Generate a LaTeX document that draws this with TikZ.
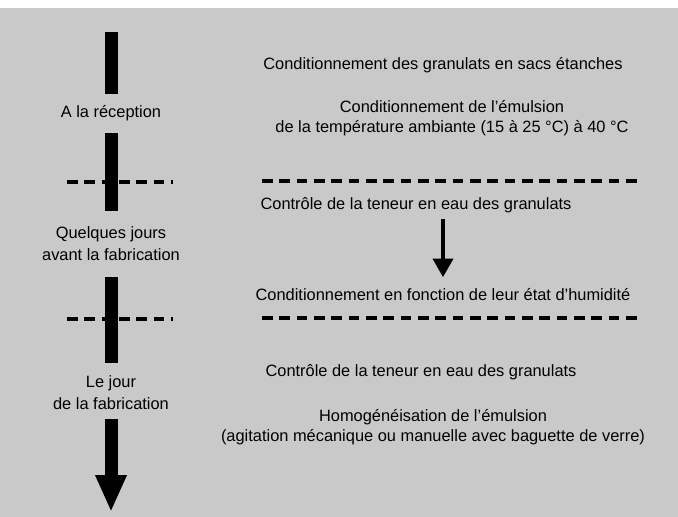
\documentclass[tikz,border=0pt]{standalone}
\usepackage{fontspec}
\setmainfont{Liberation Sans}
\usepackage{tikz}
\usetikzlibrary{arrows.meta}

\begin{document}
\begin{tikzpicture}[x=0.75pt,y=0.75pt,yscale=-1,xscale=1,
  etape/.style={inner sep=0.75pt, align=center, font=\fontsize{12.3}{15}\selectfont},
  periode/.style={etape, font=\fontsize{12.3}{16.5}\selectfont, outer sep=6pt},
  barre/.style={line width=9.75pt},
  tirets/.style={line width=3pt, dash pattern=on 8pt off 5pt},
  fleche/.style={line width=3pt, -{Triangle[length=14pt,width=15pt]}}]
\useasboundingbox (0,0) rectangle (678,517);
\fill [gray!42] (0,8) rectangle (678,517);

% Text Node
\node [periode] (recep) at (111,113) {A la réception};
% Text Node
\node [periode] (avant) at (111,244) {Quelques jours\\avant la fabrication};
% Text Node
\node [periode] (jour) at (111,393) {Le jour\\de la fabrication};
\coordinate (haut) at (111,32);
\coordinate (bas) at (111,512);

% Text Node
\node [etape] (sacs) at (443,65) {Conditionnement des granulats en sacs étanches};
% Text Node
\node [etape] (emul) at (452,118) {Conditionnement de l’émulsion\\de la température ambiante (15 à 25 °C) à 40 °C};
% Text Node
\node [etape, outer sep=4pt] (teneur) at (416,205) {Contrôle de la teneur en eau des granulats};
% Text Node
\node [etape, outer sep=8pt] (humid) at (443,295) {Conditionnement en fonction de leur état d’humidité};
% Text Node
\node [etape] (teneurb) at (421,372) {Contrôle de la teneur en eau des granulats};
% Text Node
\node [etape] (homog) at (433,427) {Homogénéisation de l’émulsion\\(agitation mécanique ou manuelle avec baguette de verre)};

%Dashed Lines
\coordinate (g1) at (67,182);
\coordinate (d1) at (173,182);
\coordinate (g2) at (262,181);
\coordinate (d2) at (640,181);
\coordinate (g3) at (67,319);
\coordinate (d3) at (173,319);
\coordinate (g4) at (262,318);
\coordinate (d4) at (640,318);
\draw [tirets] (g1) -- (d1);
\draw [tirets] (g2) -- (d2);
\draw [tirets] (g3) -- (d3);
\draw [tirets] (g4) -- (d4);

%Straight Lines
\draw [barre, shorten >=1.5pt] (haut) -- (recep.north);
\draw [barre, shorten <=2.25pt, shorten >=5pt] (recep.south) -- (avant.north);
\draw [barre, shorten <=5pt, shorten >=3pt] (avant.south) -- (jour.north);
\draw [barre, -{Triangle[length=27.75pt,width=21.75pt]}] (jour.south) -- (bas);
\draw [fleche] (teneur.south -| humid.north) -- (humid.north);

\end{tikzpicture}
\end{document}
